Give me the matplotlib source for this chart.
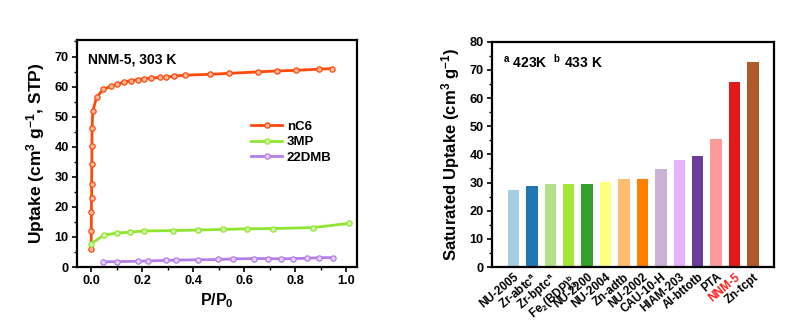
import matplotlib
matplotlib.use("Agg")
import matplotlib.pyplot as plt
from matplotlib.ticker import MultipleLocator

plt.rcParams['font.family'] = ['Liberation Sans', 'DejaVu Sans']
plt.rcParams['font.weight'] = 'bold'
plt.rcParams['mathtext.fontset'] = 'custom'
plt.rcParams['mathtext.rm'] = 'Liberation Sans:bold'
plt.rcParams['mathtext.it'] = 'Liberation Sans:bold'
plt.rcParams['mathtext.bf'] = 'Liberation Sans:bold'
plt.rcParams['mathtext.default'] = 'rm'

# ---- Left panel data: isotherms of NNM-5 at 303 K ----
nc6_x = [0.0005, 0.001, 0.0015, 0.002, 0.0025, 0.003, 0.0035, 0.004, 0.007,
         0.022, 0.048, 0.078, 0.103, 0.129, 0.158, 0.183, 0.208, 0.234,
         0.271, 0.294, 0.325, 0.370, 0.468, 0.541, 0.655, 0.729, 0.803,
         0.894, 0.946]
nc6_y = [6.0, 12.1, 18.4, 23.0, 27.7, 34.2, 40.3, 46.2, 51.9,
         56.5, 59.1, 60.1, 60.8, 61.5, 62.0, 62.3, 62.6, 62.8,
         63.1, 63.1, 63.5, 63.8, 64.1, 64.4, 64.9, 65.2, 65.4,
         65.8, 66.0]
mp3_x = [0.001, 0.051, 0.102, 0.154, 0.207, 0.322, 0.421, 0.519, 0.610,
         0.714, 0.869, 1.010]
mp3_y = [7.8, 10.6, 11.3, 11.6, 12.0, 12.1, 12.3, 12.5, 12.7,
         12.8, 13.1, 14.5]
dmb_x = [0.048, 0.102, 0.183, 0.222, 0.293, 0.333, 0.421, 0.499, 0.558,
         0.638, 0.693, 0.744, 0.792, 0.848, 0.894, 0.950]
dmb_y = [1.7, 1.8, 1.9, 2.0, 2.2, 2.3, 2.4, 2.5, 2.7,
         2.8, 2.8, 2.7, 2.8, 2.9, 3.1, 3.1]

# ---- Right panel data: saturated uptake comparison ----
materials = ['NU-2005', 'Zr-abtc$^a$', 'Zr-bptc$^a$', 'Fe$_2$(BDP)$_3^b$',
             'NU-2200', 'NU-2004', 'Zn-adtb', 'NU-2002', 'CAU-10-H',
             'HIAM-203', 'Al-bttotb', 'PTA', 'NNM-5', 'Zn-tcpt']
uptake = [27.2, 28.7, 29.6, 29.6, 29.6, 30.2, 31.3, 31.4, 34.8,
          37.9, 39.3, 45.3, 65.8, 72.8]
bar_colors = ['#a6cee3', '#1f78b4', '#b2df8a', '#a3e635', '#33a02c',
              '#ffff80', '#fdbf6f', '#ff7f00', '#cab2d6', '#e9b0fb',
              '#6a3d9a', '#fb9a99', '#e31a1c', '#b15928']

fig = plt.figure(figsize=(7.98, 3.22), dpi=100)
ax1 = fig.add_axes([0.0965, 0.1708, 0.351, 0.705])
ax2 = fig.add_axes([0.6165, 0.1708, 0.3534, 0.6997])

def style(ax):
    for s in ax.spines.values():
        s.set_linewidth(1.6)
    ax.tick_params(which='major', direction='out', length=3.5, width=1.2,
                   labelsize=9.2, pad=2.5)
    ax.tick_params(which='minor', direction='out', length=2, width=1.0)
    for lab in ax.get_xticklabels() + ax.get_yticklabels():
        lab.set_fontweight('bold')

series = [
    (nc6_x, nc6_y, '#ff4a0a', '#ffb9a0', 'nC6'),
    (mp3_x, mp3_y, '#8fe630', '#d6f7b0', '3MP'),
    (dmb_x, dmb_y, '#b47ded', '#e6d2fa', '22DMB'),
]
for xs, ys, c, fc, lab in series:
    ax1.plot(xs, ys, '-o', color=c, lw=2.0, ms=3.8, mfc=fc, mec=c, mew=0.9,
             label=lab)
ax1.set_xlim(-0.055, 1.043)
ax1.set_ylim(0, 75.5)
ax1.xaxis.set_major_locator(MultipleLocator(0.2))
ax1.xaxis.set_minor_locator(MultipleLocator(0.1))
ax1.yaxis.set_major_locator(MultipleLocator(10))
ax1.yaxis.set_minor_locator(MultipleLocator(5))
ax1.set_xticks([0, 0.2, 0.4, 0.6, 0.8, 1.0])
ax1.set_xticklabels(['0.0', '0.2', '0.4', '0.6', '0.8', '1.0'])
style(ax1)
ax1.set_xlabel('P/P$_0$', fontsize=11.5, fontweight='bold', labelpad=3)
ax1.set_ylabel('Uptake (cm$^3$ g$^{-1}$, STP)', fontsize=12.5,
               fontweight='bold', labelpad=5)
ax1.text(0.04, 0.915, 'NNM-5, 303 K', transform=ax1.transAxes,
         fontsize=10, fontweight='bold', va='center', ha='left')
leg = ax1.legend(loc='upper left', bbox_to_anchor=(0.62, 0.645),
                 frameon=False, fontsize=9.5, handlelength=2.4,
                 handletextpad=0.35, labelspacing=0.25, borderpad=0,
                 borderaxespad=0)
for t in leg.get_texts():
    t.set_fontweight('bold')

pos = list(range(len(materials)))
ax2.bar(pos, uptake, width=0.62, color=bar_colors, edgecolor='none')
ax2.set_xlim(-1.17, 14.14)
ax2.set_ylim(0, 80)
ax2.yaxis.set_major_locator(MultipleLocator(10))
ax2.yaxis.set_minor_locator(MultipleLocator(5))
ax2.set_xticks(pos)
ax2.set_xticklabels(materials, rotation=40, ha='right',
                    rotation_mode='anchor', fontsize=8.4)
style(ax2)
ax2.tick_params(axis='x', length=0, pad=3, labelsize=8.4)
for i, lab in enumerate(ax2.get_xticklabels()):
    lab.set_fontweight('bold')
    if materials[i] == 'NNM-5':
        lab.set_color('#ff1a1a')
ax2.set_ylabel('Saturated Uptake (cm$^3$ g$^{-1}$)', fontsize=12,
               fontweight='bold', labelpad=5)
ax2.text(0.04, 0.91, '$^a$ 423K  $^b$ 433 K', transform=ax2.transAxes,
         fontsize=10, fontweight='bold', va='center', ha='left')

fig.savefig('out.png', dpi=100)
